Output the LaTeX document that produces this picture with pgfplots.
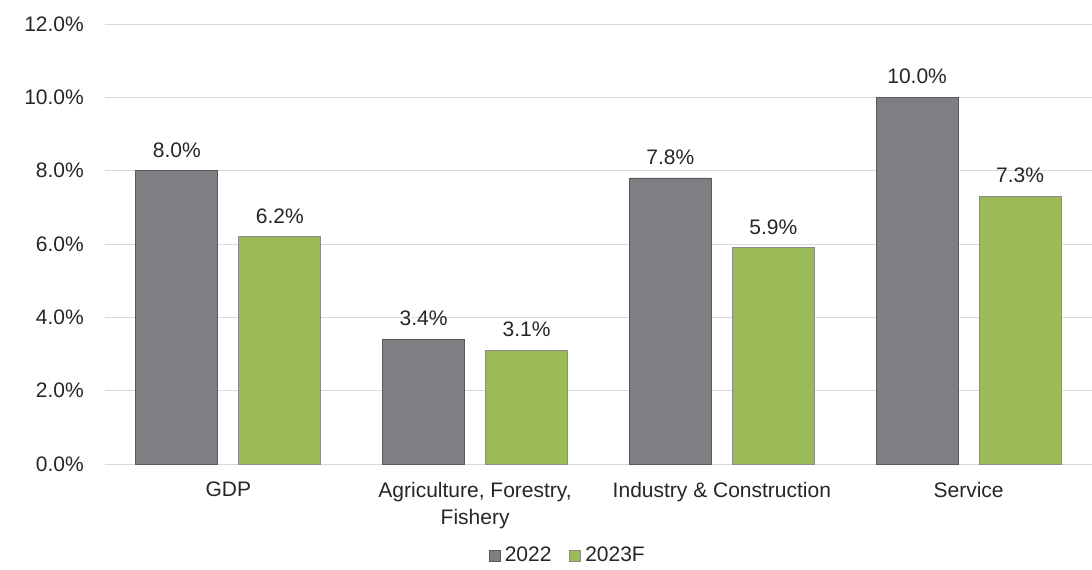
\documentclass[border=0pt]{standalone}
\usepackage{fontspec}
\setmainfont{Liberation Sans}
\usepackage{pgfplots}
\pgfplotsset{compat=1.18}
\definecolor{cgray}{HTML}{7F7F83}
\definecolor{cgreen}{HTML}{9BBB59}
\definecolor{gridc}{HTML}{D9D9D9}
\begin{document}
\fontsize{21pt}{25pt}\selectfont
\begin{tikzpicture}
\useasboundingbox (-105pt,-106pt) rectangle (987pt,464pt);
\begin{axis}[
  at={(0,0)}, anchor=south west,
  scale only axis, width=987pt, height=440pt,
  /pgf/number format/assume math mode=true,
  ybar=21pt, bar width=82pt,
  xmin=-0.5, xmax=3.5, ymin=0, ymax=12,
  xtick={0,1,2,3},
  xticklabels={GDP,{Agriculture, Forestry,\\Fishery},Industry \& Construction,Service},
  xticklabel style={align=center, font=\fontsize{21pt}{27pt}\selectfont, yshift=-11pt, text=black!85},
  ytick={0,2,4,6,8,10,12},
  yticklabels={0.0\%,2.0\%,4.0\%,6.0\%,8.0\%,10.0\%,12.0\%},
  yticklabel style={font=\fontsize{21pt}{25pt}\selectfont, xshift=-14pt, text=black!85},
  major tick length=0pt,
  ymajorgrids, grid style={gridc, line width=0.8pt},
  axis x line*=bottom,
  axis y line*=left,
  y axis line style={draw=none},
  x axis line style={draw=gridc, line width=1pt, -},
  nodes near coords={\pgfmathprintnumber[fixed,fixed zerofill,precision=1]{\pgfplotspointmeta}\%},
  nodes near coords style={font=\fontsize{21pt}{25pt}\selectfont, text=black!85, yshift=6pt},
  legend style={at={(0.469,-0.209)}, anchor=center, draw=none, legend columns=2,
    font=\fontsize{21pt}{25pt}\selectfont, text=black!85,
    /tikz/every odd column/.append style={column sep=2pt},
    /tikz/every even column/.append style={column sep=16pt}},
  legend image code/.code={\draw[#1,bar width=0pt] (0pt,-5pt) rectangle (11pt,6pt);},
  legend cell align=left,
]
\addplot[fill=cgray, draw=black!65, line width=0.8pt] coordinates {(0,8.0) (1,3.4) (2,7.8) (3,10.0)};
\addplot[fill=cgreen, draw=black!45, line width=0.8pt] coordinates {(0,6.2) (1,3.1) (2,5.9) (3,7.3)};
\legend{2022,2023F}
\end{axis}
\end{tikzpicture}
\end{document}
